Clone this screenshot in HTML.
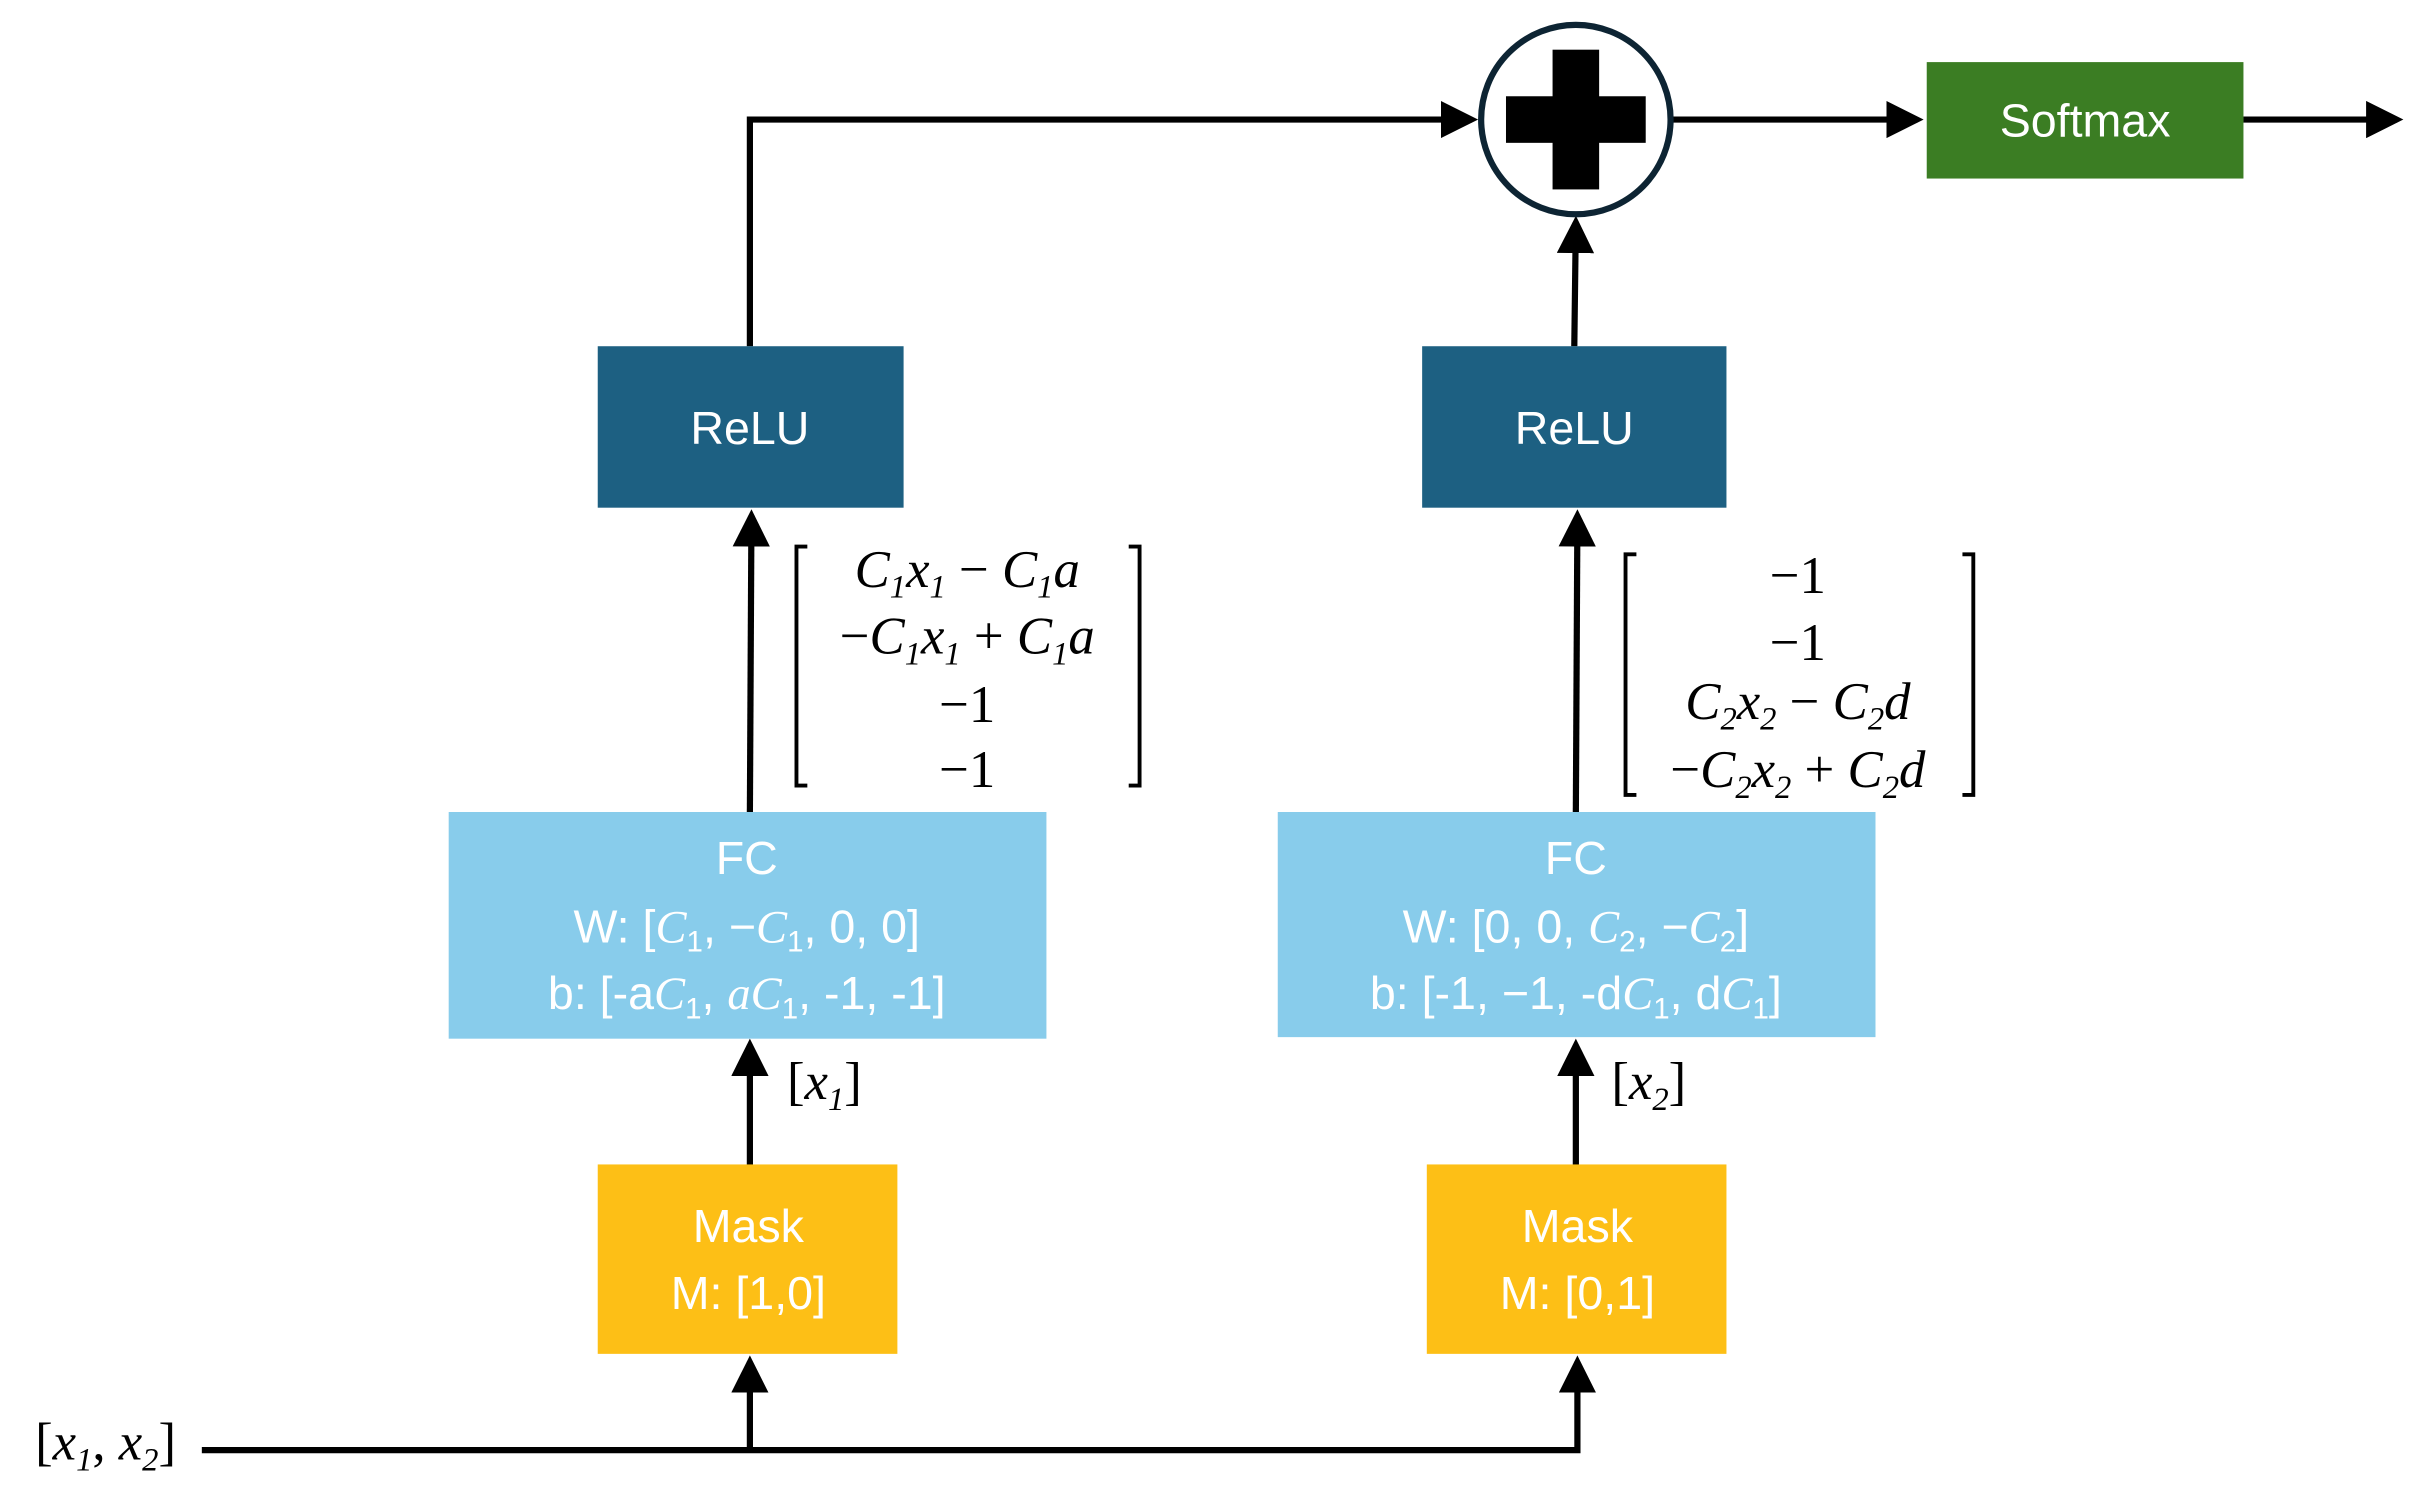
<!DOCTYPE html>
<html><head><meta charset="utf-8"><style>
html,body{margin:0;padding:0;background:#fff;}
svg{display:block;}
.t{font-family:"Liberation Sans",sans-serif;fill:#fff;font-size:30px;text-anchor:middle;}
.m{font-family:"Liberation Serif",serif;font-style:italic;fill:#000;font-size:34px;text-anchor:middle;}
.n{font-style:normal;}
</style></head><body>
<svg width="2422" height="1488" viewBox="0 0 1560 958.4" preserveAspectRatio="none" xmlns="http://www.w3.org/2000/svg">
<defs>
<marker id="a" markerWidth="6" markerHeight="6" refX="5" refY="3" orient="auto" markerUnits="strokeWidth">
<path d="M0,0 L6,3 L0,6 z" fill="#000"/></marker>
</defs>
<g stroke="#000" stroke-width="4" fill="none">
<polyline points="483,223 483,77 948,77" marker-end="url(#a)"/>
<line x1="1014" y1="223" x2="1015" y2="143" marker-end="url(#a)"/>
<line x1="1077" y1="77" x2="1235" y2="77" marker-end="url(#a)"/>
<line x1="1445" y1="77" x2="1544" y2="77" marker-end="url(#a)"/>
<line x1="483" y1="523" x2="484" y2="332" marker-end="url(#a)"/>
<line x1="1015" y1="523" x2="1016" y2="332" marker-end="url(#a)"/>
<line x1="483" y1="750" x2="483" y2="673" marker-end="url(#a)"/>
<line x1="1015" y1="750" x2="1015" y2="673" marker-end="url(#a)"/>
<polyline points="130,934 1016,934 1016,877" marker-end="url(#a)"/>
<line x1="483" y1="934" x2="483" y2="877" marker-end="url(#a)"/>
</g>
<circle cx="1015" cy="77" r="61" fill="#fff" stroke="#0d2433" stroke-width="4"/>
<rect x="1000" y="32" width="30" height="90" fill="#000"/>
<rect x="970" y="62" width="90" height="30" fill="#000"/>
<rect x="1241" y="40" width="204" height="75" fill="#3b7d23"/>
<text class="t" x="1343" y="88">Softmax</text>
<rect x="385" y="223" width="197" height="104" fill="#1d6082"/>
<text class="t" x="483" y="286">ReLU</text>
<rect x="916" y="223" width="196" height="104" fill="#1d6082"/>
<text class="t" x="1014" y="286">ReLU</text>
<rect x="289" y="523" width="385" height="146" fill="#88cceb"/>
<text class="t" x="481" y="563">FC</text>
<text class="t" x="481" y="607">W: [<tspan font-family="Liberation Serif" font-style="italic">C</tspan><tspan font-size="19" dy="6">1</tspan><tspan dy="-6">, −</tspan><tspan font-family="Liberation Serif" font-style="italic">C</tspan><tspan font-size="19" dy="6">1</tspan><tspan dy="-6">, 0, 0]</tspan></text>
<text class="t" x="481" y="650">b: [-a<tspan font-family="Liberation Serif" font-style="italic">C</tspan><tspan font-size="19" dy="6">1</tspan><tspan dy="-6">, </tspan><tspan font-family="Liberation Serif" font-style="italic">aC</tspan><tspan font-size="19" dy="6">1</tspan><tspan dy="-6">, -1, -1]</tspan></text>
<rect x="823" y="523" width="385" height="145" fill="#88cceb"/>
<text class="t" x="1015" y="563">FC</text>
<text class="t" x="1015" y="607">W: [0, 0, <tspan font-family="Liberation Serif" font-style="italic">C</tspan><tspan font-size="19" dy="6">2</tspan><tspan dy="-6">, −</tspan><tspan font-family="Liberation Serif" font-style="italic">C</tspan><tspan font-size="19" dy="6">2</tspan><tspan dy="-6">]</tspan></text>
<text class="t" x="1015" y="650">b: [-1, −1, -d<tspan font-family="Liberation Serif" font-style="italic">C</tspan><tspan font-size="19" dy="6">1</tspan><tspan dy="-6">, d</tspan><tspan font-family="Liberation Serif" font-style="italic">C</tspan><tspan font-size="19" dy="6">1</tspan><tspan dy="-6">]</tspan></text>
<rect x="385" y="750" width="193" height="122" fill="#fdbf16"/>
<text class="t" x="482" y="800">Mask</text>
<text class="t" x="482" y="843">M: [1,0]</text>
<rect x="919" y="750" width="193" height="122" fill="#fdbf16"/>
<text class="t" x="1016" y="800">Mask</text>
<text class="t" x="1016" y="843">M: [0,1]</text>
<g stroke="#000" stroke-width="2.5" fill="none">
<polyline points="520,352 513,352 513,506 520,506"/>
<polyline points="727,352 734,352 734,506 727,506"/>
<polyline points="1054,357 1047,357 1047,512 1054,512"/>
<polyline points="1264,357 1271,357 1271,512 1264,512"/>
</g>
<text class="m" x="623" y="378">C<tspan font-size="21" dy="7">1</tspan><tspan dy="-7">x</tspan><tspan font-size="21" dy="7">1</tspan><tspan dy="-7" class="n"> − </tspan>C<tspan font-size="21" dy="7">1</tspan><tspan dy="-7">a</tspan></text>
<text class="m" x="623" y="421"><tspan class="n">−</tspan>C<tspan font-size="21" dy="7">1</tspan><tspan dy="-7">x</tspan><tspan font-size="21" dy="7">1</tspan><tspan dy="-7" class="n"> + </tspan>C<tspan font-size="21" dy="7">1</tspan><tspan dy="-7">a</tspan></text>
<text class="m n" x="623" y="465">−1</text>
<text class="m n" x="623" y="507">−1</text>
<text class="m n" x="1158" y="382">−1</text>
<text class="m n" x="1158" y="425">−1</text>
<text class="m" x="1158" y="463">C<tspan font-size="21" dy="7">2</tspan><tspan dy="-7">x</tspan><tspan font-size="21" dy="7">2</tspan><tspan dy="-7" class="n"> − </tspan>C<tspan font-size="21" dy="7">2</tspan><tspan dy="-7">d</tspan></text>
<text class="m" x="1158" y="507"><tspan class="n">−</tspan>C<tspan font-size="21" dy="7">2</tspan><tspan dy="-7">x</tspan><tspan font-size="21" dy="7">2</tspan><tspan dy="-7" class="n"> + </tspan>C<tspan font-size="21" dy="7">2</tspan><tspan dy="-7">d</tspan></text>
<text class="m" x="531" y="708"><tspan class="n">[</tspan>x<tspan font-size="21" dy="7">1</tspan><tspan dy="-7" class="n">]</tspan></text>
<text class="m" x="1062" y="708"><tspan class="n">[</tspan>x<tspan font-size="21" dy="7">2</tspan><tspan dy="-7" class="n">]</tspan></text>
<text class="m" x="68" y="940"><tspan class="n">[</tspan>x<tspan font-size="21" dy="7">1</tspan><tspan dy="-7" class="n">, </tspan>x<tspan font-size="21" dy="7">2</tspan><tspan dy="-7" class="n">]</tspan></text>
</svg>
</body></html>
